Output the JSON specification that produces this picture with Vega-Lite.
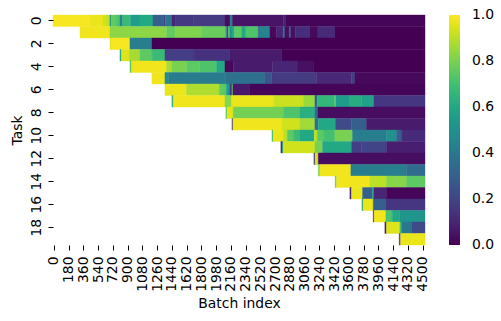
{"$schema":"https://vega.github.io/schema/vega-lite/v6.json","width":372,"height":230,"autosize":"none","padding":{"left":53,"top":15,"right":76,"bottom":76},"background":"white","config":{"view":{"stroke":null},"font":"DejaVu Sans"},
"data":{"values":[
{"t":0,"s":-10,"e":440,"v":0.99},{"t":0,"s":440,"e":600,"v":0.97},{"t":0,"s":600,"e":650,"v":0.93},{"t":0,"s":650,"e":685,"v":0.9},{"t":0,"s":685,"e":700,"v":0.5},{"t":0,"s":700,"e":760,"v":0.76},{"t":0,"s":760,"e":807,"v":0.72},{"t":0,"s":807,"e":840,"v":0.45},{"t":0,"s":840,"e":937,"v":0.68},{"t":0,"s":937,"e":1051,"v":0.55},{"t":0,"s":1051,"e":1210,"v":0.61},{"t":0,"s":1210,"e":1340,"v":0.3},{"t":0,"s":1340,"e":1360,"v":0.18},{"t":0,"s":1360,"e":1441,"v":0.38},{"t":0,"s":1441,"e":1480,"v":0.1},{"t":0,"s":1480,"e":1700,"v":0.16},{"t":0,"s":1700,"e":2088,"v":0.17},{"t":0,"s":2088,"e":2150,"v":0.03},{"t":0,"s":2150,"e":2178,"v":0.45},{"t":0,"s":2178,"e":2800,"v":0.05},{"t":0,"s":2800,"e":2830,"v":0.08},{"t":0,"s":2830,"e":4530,"v":0.01},
{"t":1,"s":320,"e":685,"v":0.98},{"t":1,"s":685,"e":1376,"v":0.83},{"t":1,"s":1376,"e":1480,"v":0.76},{"t":1,"s":1480,"e":1800,"v":0.81},{"t":1,"s":1800,"e":2088,"v":0.77},{"t":1,"s":2088,"e":2110,"v":0.7},{"t":1,"s":2110,"e":2130,"v":0.2},{"t":1,"s":2130,"e":2150,"v":0.72},{"t":1,"s":2150,"e":2174,"v":0.5},{"t":1,"s":2174,"e":2206,"v":0.6},{"t":1,"s":2206,"e":2291,"v":0.75},{"t":1,"s":2291,"e":2344,"v":0.6},{"t":1,"s":2344,"e":2495,"v":0.72},{"t":1,"s":2495,"e":2515,"v":0.3},{"t":1,"s":2515,"e":2637,"v":0.45},{"t":1,"s":2637,"e":2719,"v":0.02},{"t":1,"s":2719,"e":2800,"v":0.1},{"t":1,"s":2800,"e":2820,"v":0.3},{"t":1,"s":2820,"e":2873,"v":0.03},{"t":1,"s":2873,"e":2893,"v":0.25},{"t":1,"s":2893,"e":2950,"v":0.04},{"t":1,"s":2950,"e":3125,"v":0.13},{"t":1,"s":3125,"e":3223,"v":0.02},{"t":1,"s":3223,"e":3430,"v":0.12},{"t":1,"s":3430,"e":4530,"v":0.0},
{"t":2,"s":685,"e":700,"v":0.95},{"t":2,"s":700,"e":929,"v":0.99},{"t":2,"s":929,"e":1197,"v":0.42},{"t":2,"s":1197,"e":4530,"v":0.0},
{"t":3,"s":807,"e":825,"v":0.6},{"t":3,"s":825,"e":920,"v":0.95},{"t":3,"s":920,"e":1051,"v":0.87},{"t":3,"s":1051,"e":1200,"v":0.75},{"t":3,"s":1200,"e":1356,"v":0.68},{"t":3,"s":1356,"e":1700,"v":0.18},{"t":3,"s":1700,"e":2149,"v":0.14},{"t":3,"s":2149,"e":2780,"v":0.07},{"t":3,"s":2780,"e":4530,"v":0.0},
{"t":4,"s":929,"e":949,"v":0.75},{"t":4,"s":949,"e":1376,"v":0.98},{"t":4,"s":1376,"e":1441,"v":0.87},{"t":4,"s":1441,"e":1620,"v":0.8},{"t":4,"s":1620,"e":1780,"v":0.75},{"t":4,"s":1780,"e":1987,"v":0.72},{"t":4,"s":1987,"e":2088,"v":0.6},{"t":4,"s":2088,"e":2190,"v":0.02},{"t":4,"s":2190,"e":2670,"v":0.07},{"t":4,"s":2670,"e":2980,"v":0.1},{"t":4,"s":2980,"e":3165,"v":0.04},{"t":4,"s":3165,"e":4530,"v":0.0},
{"t":5,"s":1197,"e":1356,"v":0.98},{"t":5,"s":1356,"e":1400,"v":0.48},{"t":5,"s":1400,"e":2100,"v":0.41},{"t":5,"s":2100,"e":2576,"v":0.37},{"t":5,"s":2576,"e":2660,"v":0.27},{"t":5,"s":2660,"e":3206,"v":0.17},{"t":5,"s":3206,"e":3634,"v":0.11},{"t":5,"s":3634,"e":3675,"v":0.18},{"t":5,"s":3675,"e":4530,"v":0.02},
{"t":6,"s":1356,"e":1620,"v":0.97},{"t":6,"s":1620,"e":2020,"v":0.88},{"t":6,"s":2020,"e":2105,"v":0.75},{"t":6,"s":2105,"e":2150,"v":0.55},{"t":6,"s":2150,"e":2174,"v":0.15},{"t":6,"s":2174,"e":2186,"v":0.75},{"t":6,"s":2186,"e":2393,"v":0.06},{"t":6,"s":2393,"e":4530,"v":0.01},
{"t":7,"s":1441,"e":1460,"v":0.65},{"t":7,"s":1460,"e":2088,"v":0.98},{"t":7,"s":2088,"e":2170,"v":0.82},{"t":7,"s":2170,"e":2680,"v":0.97},{"t":7,"s":2680,"e":3044,"v":0.92},{"t":7,"s":3044,"e":3186,"v":0.85},{"t":7,"s":3186,"e":3215,"v":0.3},{"t":7,"s":3215,"e":3430,"v":0.66},{"t":7,"s":3430,"e":3443,"v":0.8},{"t":7,"s":3443,"e":3613,"v":0.55},{"t":7,"s":3613,"e":3756,"v":0.62},{"t":7,"s":3756,"e":3906,"v":0.58},{"t":7,"s":3906,"e":4530,"v":0.15},
{"t":8,"s":2100,"e":2115,"v":0.75},{"t":8,"s":2115,"e":2190,"v":0.96},{"t":8,"s":2190,"e":2800,"v":0.79},{"t":8,"s":2800,"e":3003,"v":0.72},{"t":8,"s":3003,"e":3186,"v":0.63},{"t":8,"s":3186,"e":3223,"v":0.35},{"t":8,"s":3223,"e":4530,"v":0.03},
{"t":9,"s":2174,"e":2186,"v":0.15},{"t":9,"s":2186,"e":2780,"v":0.98},{"t":9,"s":2780,"e":3000,"v":0.93},{"t":9,"s":3000,"e":3186,"v":0.86},{"t":9,"s":3186,"e":3227,"v":0.35},{"t":9,"s":3227,"e":3438,"v":0.6},{"t":9,"s":3438,"e":3634,"v":0.22},{"t":9,"s":3634,"e":3816,"v":0.3},{"t":9,"s":3816,"e":4530,"v":0.07},
{"t":10,"s":2662,"e":2678,"v":0.7},{"t":10,"s":2678,"e":2800,"v":0.97},{"t":10,"s":2800,"e":2849,"v":0.9},{"t":10,"s":2849,"e":2922,"v":0.75},{"t":10,"s":2922,"e":3003,"v":0.68},{"t":10,"s":3003,"e":3178,"v":0.6},{"t":10,"s":3178,"e":3215,"v":0.9},{"t":10,"s":3215,"e":3288,"v":0.75},{"t":10,"s":3288,"e":3430,"v":0.7},{"t":10,"s":3430,"e":3645,"v":0.8},{"t":10,"s":3645,"e":4060,"v":0.42},{"t":10,"s":4060,"e":4182,"v":0.5},{"t":10,"s":4182,"e":4243,"v":0.3},{"t":10,"s":4243,"e":4530,"v":0.12},
{"t":11,"s":2771,"e":2787,"v":0.1},{"t":11,"s":2787,"e":2800,"v":0.5},{"t":11,"s":2800,"e":3186,"v":0.93},{"t":11,"s":3186,"e":3280,"v":0.8},{"t":11,"s":3280,"e":3634,"v":0.6},{"t":11,"s":3634,"e":3755,"v":0.18},{"t":11,"s":3755,"e":4060,"v":0.2},{"t":11,"s":4060,"e":4530,"v":0.08},
{"t":12,"s":3174,"e":3190,"v":0.2},{"t":12,"s":3190,"e":3227,"v":0.95},{"t":12,"s":3227,"e":4530,"v":0.03},
{"t":13,"s":3227,"e":3247,"v":0.8},{"t":13,"s":3247,"e":3625,"v":0.98},{"t":13,"s":3625,"e":4304,"v":0.42},{"t":13,"s":4304,"e":4530,"v":0.35},
{"t":14,"s":3434,"e":3450,"v":0.75},{"t":14,"s":3450,"e":3857,"v":0.98},{"t":14,"s":3857,"e":4060,"v":0.9},{"t":14,"s":4060,"e":4304,"v":0.82},{"t":14,"s":4304,"e":4530,"v":0.75},
{"t":15,"s":3613,"e":3633,"v":0.1},{"t":15,"s":3633,"e":3768,"v":0.97},{"t":15,"s":3768,"e":3890,"v":0.3},{"t":15,"s":3890,"e":3906,"v":0.6},{"t":15,"s":3906,"e":4060,"v":0.1},{"t":15,"s":4060,"e":4530,"v":0.01},
{"t":16,"s":3760,"e":3776,"v":0.6},{"t":16,"s":3776,"e":3898,"v":0.97},{"t":16,"s":3898,"e":4052,"v":0.3},{"t":16,"s":4052,"e":4530,"v":0.15},
{"t":17,"s":3898,"e":3910,"v":0.1},{"t":17,"s":3910,"e":4052,"v":0.98},{"t":17,"s":4052,"e":4130,"v":0.72},{"t":17,"s":4130,"e":4223,"v":0.6},{"t":17,"s":4223,"e":4530,"v":0.52},
{"t":18,"s":4040,"e":4060,"v":0.1},{"t":18,"s":4060,"e":4223,"v":0.95},{"t":18,"s":4223,"e":4243,"v":0.7},{"t":18,"s":4243,"e":4365,"v":0.4},{"t":18,"s":4365,"e":4530,"v":0.22},
{"t":19,"s":4215,"e":4232,"v":0.15},{"t":19,"s":4232,"e":4530,"v":0.97}
]},
"mark":{"type":"rect","strokeWidth":0.4,"stroke":{"expr":"scale('color', datum.v)"}},
"encoding":{
"x":{"field":"s","type":"quantitative","scale":{"domain":[-10,4530],"nice":false,"zero":false},"axis":{"title":"Batch index","values":[0,180,360,540,720,900,1080,1260,1440,1620,1800,1980,2160,2340,2520,2700,2880,3060,3240,3420,3600,3780,3960,4140,4320,4500],"format":"d","labelAngle":-90,"labelAlign":"right","labelBaseline":"middle","labelFontSize":13.9,"labelColor":"black","titleFontSize":13.9,"titleFontWeight":"normal","titleColor":"black","tickColor":"black","tickSize":5,"labelPadding":6,"domain":false,"grid":false,"labelOverlap":false,"labelFlush":false,"titlePadding":5}},
"x2":{"field":"e"},
"y":{"field":"t","type":"ordinal","scale":{"domain":[0,1,2,3,4,5,6,7,8,9,10,11,12,13,14,15,16,17,18,19],"paddingInner":0,"paddingOuter":0},"axis":{"title":"Task","values":[0,2,4,6,8,10,12,14,16,18],"labelAngle":-90,"labelAlign":"center","labelBaseline":"bottom","labelFontSize":13.9,"labelColor":"black","titleFontSize":13.9,"titleFontWeight":"normal","titleColor":"black","tickColor":"black","tickSize":5,"labelPadding":5,"domain":false,"grid":false,"labelOverlap":false,"titlePadding":5}},
"color":{"field":"v","type":"quantitative","scale":{"scheme":"viridis","domain":[0,1],"nice":false},"legend":{"title":null,"orient":"none","legendX":396,"legendY":0,"direction":"vertical","gradientLength":230,"gradientThickness":11,"values":[0,0.2,0.4,0.6,0.8,1],"format":".1f","labelFontSize":13.9,"labelColor":"black","labelOffset":12,"gradientStrokeWidth":0,"encode":{"labels":{"update":{"baseline":{"value":"middle"}}}}}}
}}
